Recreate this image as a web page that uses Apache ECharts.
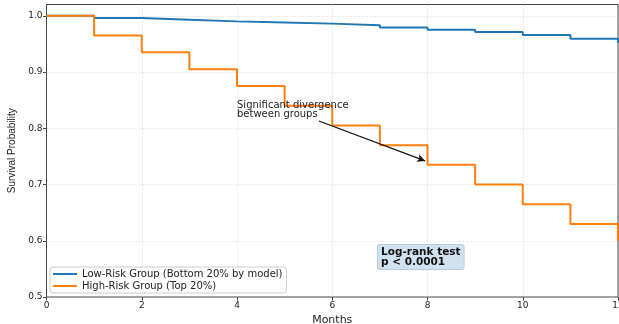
<!DOCTYPE html>
<html>
<head>
<meta charset="utf-8">
<style>
  html, body { margin: 0; padding: 0; background: #fff; }
  #chart { width: 619px; height: 324px; }
</style>
<script src="https://cdn.jsdelivr.net/npm/echarts@6/dist/echarts.min.js"></script>
</head>
<body>
<div id="chart"></div>
<script>
// data
var months = [0, 1, 2, 3, 4, 5, 6, 7, 8, 9, 10, 11, 12];
var lowRisk = [1.0, 0.996, 0.993, 0.990, 0.988, 0.986, 0.983, 0.979, 0.975, 0.971, 0.966, 0.959, 0.952];
var highRisk = [1.0, 0.965, 0.935, 0.905, 0.875, 0.84, 0.805, 0.77, 0.735, 0.70, 0.665, 0.63, 0.60];
var seriesNames = ['Low-Risk Group (Bottom 20% by model)', 'High-Risk Group (Top 20%)'];
var xTicks = [0, 2, 4, 6, 8, 10, 12];
var yTicks = [0.5, 0.6, 0.7, 0.8, 0.9, 1.0];
// annotation arrow, in data units
var arrowFrom = [5.72, 0.813];
var arrowTo = [7.95, 0.742];

function pairs(ys) {
    return months.map(function (m, i) { return [m, ys[i]]; });
}

var chart = echarts.init(document.getElementById('chart'));
var font = 'DejaVu Sans';

var option = {
    animation: false,
    textStyle: { fontFamily: font },
    grid: {
        left: 46.5, right: 1, top: 4.5, bottom: 27,
        outerBoundsMode: 'none',
        containLabel: false,
        show: true, borderColor: '#444', borderWidth: 1
    },
    legend: {
        orient: 'vertical',
        left: 50, top: 267,
        icon: 'rect',
        itemWidth: 24, itemHeight: 2, itemGap: 2,
        padding: [2, 4, 2, 3],
        backgroundColor: '#fff',
        borderColor: '#ccc', borderWidth: 1, borderRadius: 3,
        textStyle: { fontFamily: font, fontSize: 10, color: '#222', lineHeight: 10 },
        data: seriesNames
    },
    xAxis: {
        type: 'value',
        min: 0, max: 12, interval: 2,
        name: 'Months',
        nameLocation: 'middle',
        nameGap: 15,
        nameTextStyle: { fontFamily: font, fontSize: 11, color: '#222' },
        axisLine: { show: false },
        axisTick: { show: true, length: 3.5, lineStyle: { color: '#444' } },
        axisLabel: {
            fontSize: 9, color: '#222', margin: 4,
            hideOverlap: false,
            formatter: function (v) { return xTicks.indexOf(v) >= 0 ? String(v) : ''; }
        },
        splitLine: {
            show: true, showMinLine: false, showMaxLine: false,
            lineStyle: { color: '#ddd', type: [2, 2], width: 0.8 }
        }
    },
    yAxis: {
        type: 'value',
        min: 0.5, max: 1.02, interval: 0.1,
        name: 'Survival Probability',
        nameLocation: 'middle',
        nameGap: 29,
        nameTextStyle: { fontFamily: 'Liberation Sans', fontSize: 10, color: '#222' },
        axisLine: { show: false },
        axisTick: { show: true, length: 3.5, lineStyle: { color: '#444' } },
        axisLabel: {
            fontSize: 9, color: '#222', margin: 4,
            showMaxLabel: false,
            formatter: function (v) {
                var ok = yTicks.some(function (t) { return Math.abs(t - v) < 1e-6; });
                return ok ? v.toFixed(1) : '';
            }
        },
        splitLine: {
            show: true, showMinLine: false, showMaxLine: false,
            lineStyle: { color: '#ddd', type: [2, 2], width: 0.8 }
        }
    },
    series: [
        {
            name: seriesNames[0],
            type: 'line',
            step: 'end',
            showSymbol: false,
            color: '#1f77b4',
            lineStyle: { width: 2 },
            data: pairs(lowRisk),
            z: 2
        },
        {
            name: seriesNames[1],
            type: 'line',
            step: 'end',
            showSymbol: false,
            color: '#ff7f0e',
            lineStyle: { width: 2 },
            data: pairs(highRisk),
            z: 3,
            markLine: {
                silent: true,
                symbol: ['none', 'arrow'],
                symbolSize: [6, 8],
                label: { show: false },
                lineStyle: { color: '#111', width: 1.2, type: 'solid' },
                data: [[{ coord: arrowFrom }, { coord: arrowTo }]]
            }
        }
    ],
    graphic: [
        {
            type: 'text',
            left: 237, top: 100,
            z: 100,
            style: {
                text: 'Significant divergence\nbetween groups',
                font: '10px "DejaVu Sans"',
                lineHeight: 9,
                fill: '#222'
            }
        },
        {
            type: 'text',
            left: 377, top: 244,
            z: 100,
            style: {
                text: 'Log-rank test\np < 0.0001',
                font: 'bold 10.5px "DejaVu Sans"',
                lineHeight: 10,
                fill: '#111',
                backgroundColor: '#d0e2f0',
                borderColor: '#b6cde0',
                borderWidth: 1,
                borderRadius: 2,
                padding: [2, 3, 2, 3]
            }
        }
    ]
};

chart.setOption(option);

window.onresize = function () {
    chart.resize();
};
</script>
</body>
</html>
